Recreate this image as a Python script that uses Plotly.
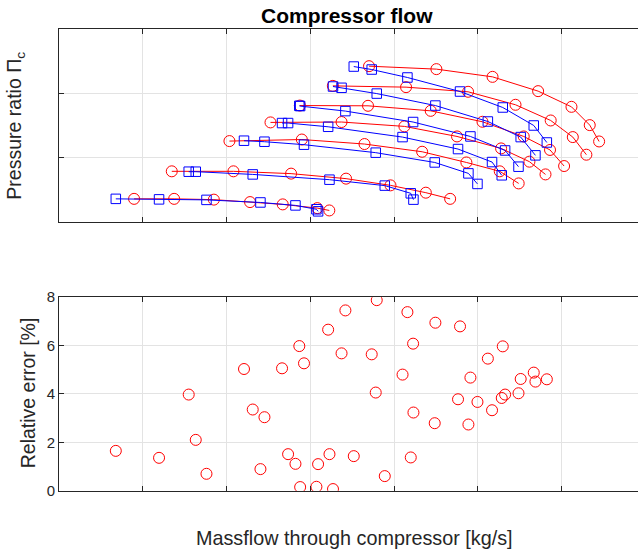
import plotly.graph_objects as go

# Measured compressor map: massflow [kg/s] and pressure ratio, one list per speed line
meas_flow = [
    [0.0448, 0.0687, 0.0924, 0.1140, 0.1335, 0.1541, 0.1613],
    [0.0673, 0.1041, 0.1385, 0.1713, 0.1978, 0.2189, 0.2334],
    [0.1017, 0.1449, 0.1823, 0.2167, 0.2431, 0.2630, 0.2743],
    [0.1262, 0.1686, 0.2061, 0.2375, 0.2638, 0.2807, 0.2903],
    [0.1437, 0.1844, 0.2218, 0.2527, 0.2773, 0.2930, 0.3014],
    [0.1634, 0.2071, 0.2441, 0.2724, 0.2934, 0.3066, 0.3147],
    [0.1850, 0.2252, 0.2587, 0.2859, 0.3058, 0.3167, 0.3223],
]
meas_pr = [
    [1.182, 1.182, 1.176, 1.157, 1.139, 1.110, 1.092],
    [1.396, 1.396, 1.378, 1.339, 1.287, 1.230, 1.182],
    [1.631, 1.643, 1.608, 1.548, 1.465, 1.396, 1.302],
    [1.776, 1.779, 1.745, 1.667, 1.574, 1.471, 1.372],
    [1.907, 1.905, 1.866, 1.781, 1.667, 1.562, 1.437],
    [2.060, 2.050, 2.014, 1.913, 1.791, 1.662, 1.525],
    [2.213, 2.190, 2.130, 2.019, 1.897, 1.755, 1.628],
]

# Model compressor map
model_flow = [
    [0.0339, 0.0597, 0.0880, 0.1202, 0.1411, 0.1536, 0.1546],
    [0.0774, 0.0816, 0.1156, 0.1614, 0.1944, 0.2099, 0.2115],
    [0.1104, 0.1226, 0.1462, 0.1890, 0.2242, 0.2443, 0.2497],
    [0.1331, 0.1367, 0.1606, 0.2050, 0.2381, 0.2584, 0.2642],
    [0.1434, 0.1439, 0.1709, 0.2113, 0.2455, 0.2662, 0.2742],
    [0.1635, 0.1686, 0.1896, 0.2246, 0.2559, 0.2755, 0.2843],
    [0.1759, 0.1866, 0.2079, 0.2393, 0.2648, 0.2833, 0.2911],
]
model_pr = [
    [1.182, 1.178, 1.174, 1.154, 1.131, 1.101, 1.085],
    [1.393, 1.393, 1.372, 1.331, 1.285, 1.225, 1.176],
    [1.634, 1.626, 1.603, 1.541, 1.465, 1.380, 1.298],
    [1.771, 1.771, 1.742, 1.662, 1.569, 1.468, 1.365],
    [1.905, 1.903, 1.864, 1.779, 1.667, 1.558, 1.432],
    [2.055, 2.045, 2.000, 1.907, 1.783, 1.662, 1.520],
    [2.210, 2.187, 2.125, 2.016, 1.892, 1.752, 1.620],
]

# Relative error [%] at each model operating point
rel_error = [
    [1.649, 1.361, 0.701, 0.895, 1.113, 0.165, 1.101],
    [3.975, 2.103, 3.357, 1.513, 0.606, 1.377, 3.233],
    [5.031, 3.039, 5.266, 4.058, 2.792, 2.738, 3.670],
    [5.060, 1.513, 6.656, 4.800, 3.781, 3.328, 3.835],
    [5.979, 0.153, 7.452, 6.078, 4.676, 3.975, 4.029],
    [0.070, 5.678, 7.876, 6.944, 5.460, 4.619, 4.511],
    [1.431, 5.637, 7.381, 6.792, 5.967, 4.882, 4.606],
]

err_ticks = [0, 2, 4, 6, 8]

RED = "#ff0000"
BLUE = "#0000ff"
AXIS = "#262626"
GRID = "#e3e3e3"
FONT = "Liberation Sans, Arial, sans-serif"

fig = go.Figure()

for fx, fy in zip(meas_flow, meas_pr):
    fig.add_trace(go.Scatter(
        x=fx, y=fy, mode="lines+markers", xaxis="x", yaxis="y",
        line=dict(color=RED, width=1),
        marker=dict(symbol="circle-open", size=11, color=RED, line=dict(width=1)),
        showlegend=False, hoverinfo="skip"))

for fx, fy in zip(model_flow, model_pr):
    fig.add_trace(go.Scatter(
        x=fx, y=fy, mode="lines+markers", xaxis="x", yaxis="y",
        line=dict(color=BLUE, width=1),
        marker=dict(symbol="square-open", size=9.5, color=BLUE, line=dict(width=1)),
        showlegend=False, hoverinfo="skip"))

err_x = [v for row in model_flow for v in row]
err_y = [v for row in rel_error for v in row]
fig.add_trace(go.Scatter(
    x=err_x, y=err_y, mode="markers", xaxis="x2", yaxis="y2",
    marker=dict(symbol="circle-open", size=11, color=RED, line=dict(width=1)),
    showlegend=False, hoverinfo="skip"))

XRANGE = [0, 0.3455]

x_common = dict(
    showline=True, linecolor=AXIS, linewidth=1, mirror="ticks",
    ticks="inside", ticklen=5, tickcolor=AXIS, tickwidth=1,
    showgrid=True, gridcolor=GRID, gridwidth=1, zeroline=False,
    showticklabels=False, dtick=0.05, tick0=0, range=XRANGE, domain=[0, 1],
)
y_common = dict(
    showline=True, linecolor=AXIS, linewidth=1, mirror=False,
    ticks="inside", ticklen=5, tickcolor=AXIS, tickwidth=1,
    showgrid=True, gridcolor=GRID, gridwidth=1, zeroline=False,
)

W, H, L = 638, 551, 59

fig.update_layout(
    width=W, height=H,
    margin=dict(l=L, r=0, t=0, b=0),
    paper_bgcolor="white", plot_bgcolor="white",
    font=dict(family=FONT, color=AXIS, size=15),
    xaxis=dict(anchor="y", **x_common),
    yaxis=dict(domain=[0.6006, 0.9621], range=[1.0, 2.5], dtick=0.5, tick0=1.0,
               showticklabels=False, anchor="x", **y_common),
    xaxis2=dict(anchor="y2", **x_common),
    yaxis2=dict(domain=[0.0978, 0.4604], range=[0, 8], tickvals=err_ticks,
                ticktext=[str(t) for t in err_ticks],
                tickfont=dict(size=15, color=AXIS), anchor="x2", **y_common),
    annotations=[
        dict(text="<b>Compressor flow</b>", xref="paper", yref="paper",
             x=0.4974, y=0.9869, xanchor="center", yanchor="middle",
             showarrow=False, font=dict(size=21, color="black")),
        dict(text="Massflow through compressor [kg/s]", xref="paper", yref="paper",
             x=0.5095, y=0.0094, xanchor="center", yanchor="middle",
             showarrow=False, font=dict(size=19.8, color=AXIS)),
        dict(text="Pressure ratio \u03a0<sub>c</sub>", xref="paper", yref="paper",
             x=-0.0745, y=0.7813, xanchor="center", yanchor="middle",
             textangle=-90, showarrow=False, font=dict(size=19.5, color=AXIS)),
        dict(text="Relative error [%]", xref="paper", yref="paper",
             x=-0.0535, y=0.2804, xanchor="center", yanchor="middle",
             textangle=-90, showarrow=False, font=dict(size=19.5, color=AXIS)),
    ],
)

fig.write_html("out.html")
